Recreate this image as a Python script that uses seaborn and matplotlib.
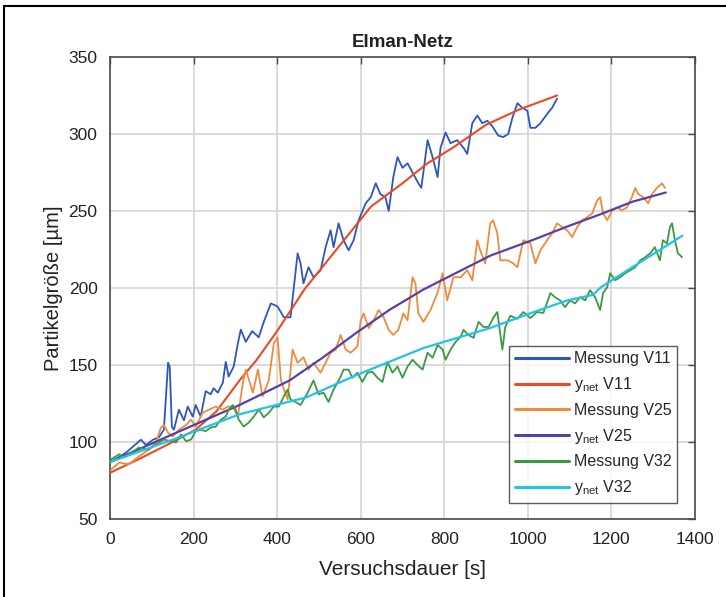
import matplotlib
matplotlib.use("Agg")
import matplotlib.pyplot as plt
import seaborn as sns
import numpy as np
from matplotlib.lines import Line2D

# ---------------- data ----------------
v11_mess_x = [2, 38, 74, 86, 103, 117, 129, 139, 143, 148, 153, 165, 177, 186, 198, 205, 217, 229, 241, 248,
              258, 270, 277, 284, 296, 306, 313, 325, 340, 356, 368, 385, 401, 416, 432, 449, 456, 463, 475, 487,
              504, 516, 528, 535, 547, 559, 571, 583, 595, 612, 624, 636, 647, 659, 667, 678, 688, 700, 712, 726,
              738, 745, 760, 772, 784, 791, 803, 815, 831, 846, 855, 867, 879, 891, 903, 915, 929, 941, 953, 963,
              975, 987, 999, 1006, 1018, 1030, 1046, 1058, 1070]
v11_mess_y = [87, 93, 101.5, 98, 101.5, 103, 108, 151.5, 149, 110, 108, 121, 114, 123, 116.5, 124, 116.5, 133, 131, 135,
              132, 138.5, 152, 142.5, 149, 164, 173, 165, 172, 168, 178, 190, 188, 181, 181, 222.5, 216, 203, 213.5, 207,
              211.5, 226.5, 237.5, 226.5, 242, 231, 224.5, 231, 244, 255, 259, 268, 261, 259, 250, 272, 285, 278, 281, 274,
              268, 265, 296, 285, 272, 291, 301, 294, 296, 291, 287, 307, 312, 307, 308.6, 305, 299, 298, 300, 310.5,
              320, 317, 315, 304, 304, 307, 313, 317, 323]

v11_net_x = [0, 70, 150, 205, 255, 310, 350, 400, 465, 545, 625, 700, 760, 820, 900, 980, 1070]
v11_net_y = [80, 89, 100, 108, 120, 140, 153, 172, 199, 226, 253, 268, 281, 291, 306, 316, 325]

v25_mess_x = [2, 22, 45, 69, 93, 110, 122, 129, 139, 150, 165, 182, 194, 205, 222, 237, 253, 270, 282, 294,
              306, 318, 325, 342, 354, 365, 380, 392, 401, 409, 425, 437, 449, 463, 475, 487, 504, 516, 528, 540,
              552, 564, 576, 592, 600, 607, 619, 631, 643, 655, 667, 678, 690, 702, 712, 724, 731, 738, 750, 767,
              784, 796, 807, 822, 839, 855, 867, 879, 886, 898, 910, 917, 927, 934, 951, 965, 975, 989, 1006, 1018,
              1030, 1046, 1058, 1070, 1082, 1094, 1106, 1118, 1130, 1142, 1154, 1166, 1173, 1180, 1190, 1202, 1214,
              1225, 1237, 1249, 1257, 1264, 1276, 1288, 1297, 1309, 1321, 1328]
v25_mess_y = [82, 86.7, 85.5, 90.6, 95, 99.7, 109.4, 111, 106, 103.6, 108, 111, 114.5, 110, 119, 121, 123, 121, 123, 123,
              116.5, 138.5, 147, 132, 147, 129.6, 140, 164, 168, 140, 127.5, 160, 151.4, 155, 147, 151.4, 145, 151.4, 158, 160,
              169.5, 160, 158, 162, 179, 183.5, 174, 179, 185.7, 181, 172.8, 169.5, 172.8, 183.5, 179, 207, 203, 183.5, 178, 185.7,
              197, 209.6, 192, 207, 207, 211.5, 205, 231, 224.5, 216, 242, 244, 235.5, 218, 218, 216, 213.5, 231, 229, 216,
              224.5, 231, 235.5, 242, 239.6, 237.5, 233, 239.6, 244, 246, 248.4, 257, 259, 248.4, 244, 250.4, 252.3,
              250.4, 252.3, 259, 265, 261, 259, 255, 261, 265, 268, 265]

v25_net_x = [0, 150, 310, 430, 510, 590, 670, 750, 830, 910, 1010, 1095, 1175, 1250, 1330]
v25_net_y = [87, 105, 124, 140, 155, 171, 186, 199, 210, 221, 231, 240, 248, 256, 262]

v32_mess_x = [2, 22, 33, 50, 69, 91, 110, 129, 146, 158, 170, 182, 194, 205, 217, 229, 241, 253, 265, 277,
              284, 294, 301, 308, 320, 332, 344, 356, 368, 380, 392, 404, 416, 425, 432, 444, 456, 473, 487, 499,
              511, 523, 535, 552, 559, 571, 580, 592, 604, 616, 628, 640, 652, 664, 676, 688, 700, 712, 724, 736,
              748, 760, 772, 784, 796, 803, 815, 827, 839, 846, 858, 870, 882, 894, 906, 918, 927, 939, 946, 958,
              975, 989, 1006, 1022, 1037, 1054, 1065, 1077, 1089, 1101, 1113, 1125, 1137, 1149, 1161, 1173, 1180,
              1190, 1197, 1209, 1221, 1233, 1245, 1257, 1269, 1281, 1293, 1304, 1316, 1323, 1333, 1340, 1345, 1352,
              1359, 1369]
v32_mess_y = [88.7, 92, 90, 93, 96.4, 95, 98.4, 101.6, 100.5, 99.7, 105, 100.5, 101.6, 107, 108, 107, 109.4, 110, 114.5, 116.5,
              121, 124, 121, 114.5, 110, 112.6, 116.5, 121, 116, 119, 123, 123, 129.6, 134, 127.5, 126, 124, 132, 140, 131,
              132, 126, 134, 142.5, 147, 147, 141.7, 145, 139, 145, 145.6, 141.7, 139, 152, 145, 149, 141.7, 149, 153.4, 150,
              147, 158, 154.7, 163, 160, 153.4, 160, 165, 168.3, 172.8, 169.5, 167.6, 178, 174.7, 174.7, 181, 184.4, 160, 174.7, 182,
              180, 184.4, 180.5, 184.4, 183.8, 196.7, 194, 192, 187.6, 192, 190, 194, 192, 198.6, 194, 185.7, 196.7,
              200.6, 209.6, 205, 207, 209.6, 211.5, 213.5, 218, 220, 222.6, 226.5, 218, 231, 229, 239.6, 242, 231,
              222.6, 220]

v32_net_x = [0, 150, 310, 470, 590, 750, 910, 1010, 1095, 1155, 1175, 1250, 1335, 1370]
v32_net_y = [87, 101.5, 118, 129, 143.5, 161, 174, 184, 192, 195.5, 200.5, 213.5, 228, 234]

x_ticks = [0, 200, 400, 600, 800, 1000, 1200, 1400]
y_ticks = [50, 100, 150, 200, 250, 300, 350]

title = "Elman-Netz"
xlabel = "Versuchsdauer [s]"
ylabel = "Partikelgröße [µm]"
labels = ["Messung V11", r"y$_{\mathrm{net}}$ V11", "Messung V25",
          r"y$_{\mathrm{net}}$ V25", "Messung V32", r"y$_{\mathrm{net}}$ V32"]

# ---------------- style ----------------
sns.set_style("white")
plt.rcParams["font.family"] = ["Liberation Sans", "DejaVu Sans"]
plt.rcParams["mathtext.fontset"] = "custom"
plt.rcParams["mathtext.rm"] = "Liberation Sans"
plt.rcParams["mathtext.it"] = "Liberation Sans"

fig = plt.figure(figsize=(7.26, 5.97), dpi=100)
ax = fig.add_axes([110 / 726, 1 - 519 / 597, 585 / 726, 462 / 597])

series = [
    (v11_mess_x, v11_mess_y, "#2f55c0", 1.3),
    (v11_net_x, v11_net_y, "#ec4a24", 1.5),
    (v25_mess_x, v25_mess_y, "#f08a3c", 1.3),
    (v25_net_x, v25_net_y, "#5640a8", 1.6),
    (v32_mess_x, v32_mess_y, "#3a9a42", 1.3),
    (v32_net_x, v32_net_y, "#22c2ea", 1.6),
]
for (xs, ys, c, lw), lab in zip(series, labels):
    sns.lineplot(x=xs, y=ys, color=c, lw=lw, sort=False, estimator=None,
                 label=lab, ax=ax, zorder=3)

ax.set_xlim(0, 1400)
ax.set_ylim(50, 350)
ax.set_xticks(x_ticks)
ax.set_yticks(y_ticks)
ax.grid(True, color="#d4d4d4", lw=1.2)
ax.set_axisbelow(True)
for s in ax.spines.values():
    s.set_color("#4a4a4a")
    s.set_linewidth(1.2)
ax.tick_params(direction="in", length=5, width=1, color="#4a4a4a",
               top=True, right=True, labelsize=12.5, pad=9, labelcolor="#222222")

ax.set_title(title, fontsize=13.5, fontweight="bold", pad=7, color="#222222")
ax.set_xlabel(xlabel, fontsize=15, labelpad=10, color="#222222")
ax.set_ylabel(ylabel, fontsize=14.5, labelpad=4, color="#222222")

leg = ax.legend(loc="lower left", bbox_to_anchor=(0.682, 0.035), fontsize=11.5,
                frameon=True, fancybox=False, edgecolor="#333333",
                handlelength=3.4, handletextpad=0.3, labelspacing=0.55,
                borderpad=0.35, borderaxespad=0)
leg.get_frame().set_linewidth(1.0)
for h in leg.get_lines():
    h.set_linewidth(2.2)

# figure frame (top and left edges visible in the reference)
fig.add_artist(Line2D([4 / 726, 1], [1 - 6 / 597, 1 - 6 / 597], transform=fig.transFigure,
                      color="black", lw=1.5))
fig.add_artist(Line2D([4 / 726, 4 / 726], [0, 1 - 6 / 597], transform=fig.transFigure,
                      color="black", lw=1.5))

fig.savefig("out.png", dpi=100)
